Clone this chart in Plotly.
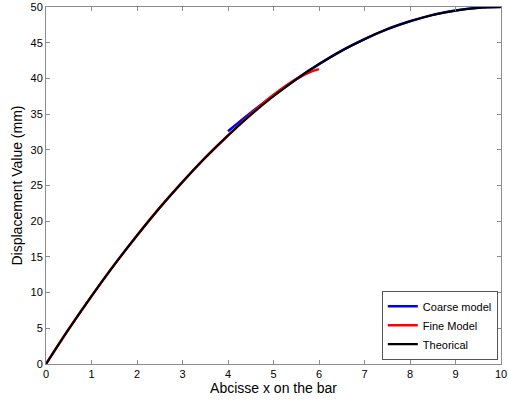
import plotly.graph_objects as go

x_theory = [0, 0.5, 1, 1.5, 2, 2.5, 3, 3.5, 4, 4.5, 5, 5.5, 6, 6.5, 7, 7.5, 8, 8.5, 9, 9.5, 10]
y_theory = [0, 4.875, 9.5, 13.875, 18, 21.875, 25.5, 28.875, 32, 34.875, 37.5, 39.875, 42, 43.875,
            45.5, 46.875, 48, 48.875, 49.5, 49.875, 50]

x_coarse = [4, 4.5, 5, 5.5, 6, 6.5, 7, 7.5, 8, 8.5, 9, 9.5, 10]
y_coarse = [32.6, 35.2, 37.6, 39.9, 42.0, 43.9, 45.5, 46.9, 48.0, 48.9, 49.5, 49.9, 50.0]

x_fine = [0, 0.5, 1, 1.5, 2, 2.5, 3, 3.5, 4, 4.5, 5, 5.5, 5.8, 6]
y_fine = [0, 4.9, 9.5, 13.9, 18, 21.9, 25.5, 28.9, 32.0, 35.0, 37.7, 39.9, 40.9, 41.3]

fig = go.Figure()
fig.add_trace(go.Scatter(x=x_coarse, y=y_coarse, mode="lines", name="Coarse model",
                         line=dict(color="#0000ff", width=2.5, shape="spline")))
fig.add_trace(go.Scatter(x=x_fine, y=y_fine, mode="lines", name="Fine Model",
                         line=dict(color="#ff0000", width=2.5, shape="spline")))
fig.add_trace(go.Scatter(x=x_theory, y=y_theory, mode="lines", name="Theorical",
                         line=dict(color="#000000", width=2.2, shape="spline")))

axis_common = dict(showline=True, linecolor="#8c8c8c", linewidth=1, mirror="ticks",
                   ticks="inside", ticklen=4, tickcolor="#8c8c8c", showgrid=False,
                   zeroline=False, automargin=False,
                   tickfont=dict(size=11, color="#000000"))

fig.update_layout(
    width=508, height=403,
    margin=dict(l=46, r=7, t=7, b=39),
    paper_bgcolor="white", plot_bgcolor="white",
    font=dict(family="Liberation Sans, Arial, sans-serif", color="#000000"),
    xaxis=dict(range=[0, 10], tickvals=list(range(0, 11)),
               title=dict(text="Abcisse x on the bar", font=dict(size=14), standoff=0),
               **axis_common),
    yaxis=dict(range=[0, 50], tickvals=list(range(0, 51, 5)),
               title=dict(text="Displacement Value (mm)", font=dict(size=14), standoff=4),
               **axis_common),
    legend=dict(x=0.993, y=0.012, xanchor="right", yanchor="bottom",
                bgcolor="white", bordercolor="#555555", borderwidth=1,
                font=dict(size=11), tracegroupgap=0, itemwidth=30),
    showlegend=True,
)

fig.write_html("out.html", config={"displayModeBar": False},
               post_script="document.body.style.margin='0';document.body.style.overflow='hidden';")
